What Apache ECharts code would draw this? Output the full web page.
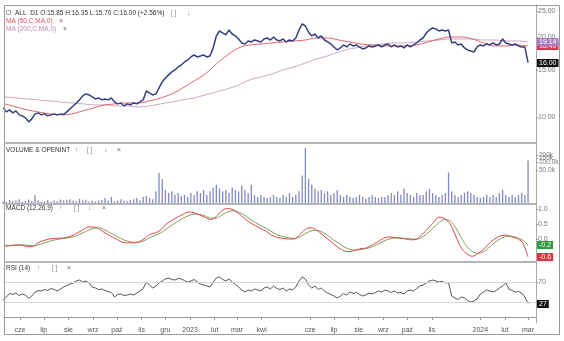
<!DOCTYPE html>
<html><head><meta charset="utf-8">
<script src="https://cdn.jsdelivr.net/npm/echarts@6/dist/echarts.min.js"></script>
<style>html,body{margin:0;padding:0;background:#fff}#c{width:564px;height:341px}</style>
</head><body><div id="c"></div><script>
// ---------- data ----------
const priceStart = '2022-05-11', priceStepDays = 4;
const closes = [10.82,10.45,10.63,10.36,10.54,10.18,10.09,9.92,9.58,9.83,
10.27,10.36,10.18,10.27,10.09,10.18,10.27,10.18,10.27,10.22,
10.45,10.72,11.00,11.29,11.59,12.00,12.21,12.10,11.89,11.69,
11.79,11.59,11.69,11.59,11.79,11.39,11.20,11.29,11.00,11.20,
11.10,11.29,11.20,11.39,11.59,12.53,12.31,12.10,12.21,12.86,
13.54,14.02,14.39,14.77,15.02,15.42,15.69,16.10,16.38,16.81,
17.10,16.81,16.96,17.10,16.81,16.96,18.17,20.16,21.05,20.69,
20.34,21.24,20.51,20.16,19.64,18.98,18.81,19.31,19.14,19.47,
19.31,19.14,19.64,19.81,19.47,19.99,19.47,19.31,19.64,19.14,
19.47,19.31,19.81,21.24,22.37,21.98,20.87,20.16,20.51,19.81,
20.16,19.47,19.14,18.81,18.33,17.86,18.17,18.65,18.33,18.81,
18.49,18.65,18.33,18.02,18.17,18.49,18.33,18.49,18.65,18.33,
18.65,18.81,18.33,18.65,18.33,18.49,18.17,18.65,18.33,18.65,
18.98,19.47,19.81,20.69,21.24,21.60,21.42,21.05,21.24,21.05,
21.24,18.98,19.14,18.65,18.81,18.17,17.86,17.70,17.55,18.33,
18.65,18.49,18.81,18.65,18.98,18.65,18.81,19.64,18.98,18.81,
18.65,18.81,18.49,18.33,18.33,16.00];
const volumesK = [2.8,2.7,3.2,2.8,3,3.4,2.7,2.9,3.3,2.9,
5,3,2.7,2.8,3.2,2.7,3,2.8,3.3,3,
3.2,3.4,3,2.8,3.5,3,3.2,2.7,3,2.8,
3,3.2,3.8,3,4.2,2.8,3,3.4,3,2.8,
3.2,3.4,3.8,3,4.2,4.6,3.8,3.4,7,38,
22,8,6,7,5,6,4.6,5,4.2,6,
5,7,6,8,5,7,10,13,9,7,
8,6,10,8,7,12,8,6,13,5,
4.2,5,4.2,3.8,4.2,5,4.2,3.8,5,4.2,
6,4.2,5,7,30,380,22,13,9,7,
8,6,7,5,6,8,5,4.2,5,4.2,
3.8,4.2,5,4.2,3.5,4.2,5,4.2,3.8,4.2,
4.2,5,6,5,7,5,9,6,5,4.2,
6,5,5,7,9,6,5,4.2,5,6,
40,7,5,4.2,5,6,7,6,5,4.2,
3.8,4.2,5,4.2,5,4.2,6,8,5,4.2,
5,4.2,5,6,5,120];
const rsi14 = [34,40,47,45,48,43,46,44,37,42,
50,53,52,55,53,57,55,52,56,60,
63,66,68,72,74,70,72,68,60,58,
55,56,53,51,49,40,45,46,43,44,
46,44,48,52,57,70,64,58,62,68,
72,76,78,75,74,77,76,73,70,72,
75,70,66,64,62,60,70,78,80,75,
72,76,70,65,60,54,50,54,52,56,
54,52,58,60,56,62,57,55,58,52,
56,54,60,72,80,76,64,58,62,55,
58,52,48,45,42,38,42,47,44,50,
47,49,45,42,44,48,46,49,52,50,
54,52,49,52,48,49,46,52,54,52,
57,62,64,68,72,74,72,70,71,68,
69,42,38,35,40,38,33,30,32,36,
46,50,54,52,50,53,58,62,68,56,
53,50,51,48,40,27];
const macdStart = '2022-05-13', macdStepDays = 7;
const macdLine = [-0.25,-0.22,-0.2,-0.2,-0.25,-0.25,-0.12,-0.05,0.0,0.02,
0.03,0.05,0.1,0.2,0.3,0.4,0.4,0.33,0.2,0.1,
0.0,-0.1,-0.13,-0.13,-0.1,0.0,0.15,0.2,0.3,0.5,
0.62,0.73,0.82,0.9,0.88,0.8,0.72,0.65,0.75,0.95,
1.02,0.98,0.85,0.7,0.55,0.45,0.35,0.25,0.12,0.05,
0.02,0.0,0.0,0.15,0.32,0.38,0.3,0.15,0.0,-0.15,
-0.3,-0.4,-0.42,-0.38,-0.32,-0.3,-0.2,-0.1,0.02,0.07,
0.05,0.03,0.0,-0.03,0.0,0.15,0.35,0.55,0.73,0.68,
0.5,0.1,-0.3,-0.5,-0.58,-0.48,-0.35,-0.15,0.0,0.1,
0.13,0.08,0.02,-0.12,-0.6];
const macdSignal = [-0.2,-0.22,-0.21,-0.2,-0.21,-0.23,-0.2,-0.14,-0.08,-0.03,
0.0,0.03,0.06,0.12,0.2,0.29,0.36,0.37,0.3,0.2,
0.1,0.0,-0.07,-0.11,-0.11,-0.06,0.04,0.12,0.2,0.33,
0.46,0.58,0.69,0.78,0.83,0.82,0.77,0.7,0.7,0.8,
0.9,0.95,0.9,0.8,0.67,0.55,0.45,0.35,0.24,0.14,
0.08,0.04,0.02,0.07,0.18,0.27,0.29,0.23,0.12,-0.02,
-0.15,-0.27,-0.35,-0.37,-0.35,-0.32,-0.26,-0.18,-0.08,0.0,
0.03,0.03,0.02,0.0,-0.01,0.06,0.2,0.37,0.55,0.65,
0.6,0.38,0.05,-0.25,-0.42,-0.48,-0.43,-0.28,-0.12,0.0,
0.08,0.09,0.05,-0.04,-0.2];
const maStart = '2022-05-13', maStepDays = 14;
const ma50 = [11.20,10.91,10.63,10.45,10.27,10.18,10.27,10.54,10.82,11.10,
11.20,11.29,11.29,11.49,11.79,12.21,12.86,13.66,14.51,15.82,
17.10,18.17,18.65,18.81,18.98,19.14,19.31,19.47,19.81,19.81,
19.47,19.14,18.81,18.65,18.49,18.49,18.49,18.65,19.14,19.64,
19.99,19.99,19.64,18.98,18.49,18.49,18.65,18.49];
const ma200 = [11.89,11.79,11.69,11.59,11.49,11.39,11.29,11.20,11.10,11.10,
11.00,11.00,10.91,11.00,11.20,11.39,11.59,11.79,12.10,12.42,
12.75,13.19,13.78,14.14,14.51,15.02,15.42,15.96,16.52,16.96,
17.55,18.02,18.33,18.65,18.81,18.98,18.98,19.14,19.31,19.47,
19.64,19.64,19.64,19.47,19.47,19.31,19.31,19.14];
const monthTicks = ['2022-06-01','2022-07-01','2022-08-01','2022-09-01','2022-10-01','2022-11-01','2022-12-01','2023-01-01','2023-02-01','2023-03-01','2023-04-01','2023-06-01','2023-07-01','2023-08-01','2023-09-01','2023-10-01','2023-11-01','2024-01-01','2024-02-01','2024-03-01'];
const monthLabels = ['cze','lip','sie','wrz','paź','lis','gru','2023','lut','mar','kwi','cze','lip','sie','wrz','paź','lis','2024','lut','mar'];
const priceTicks = [10,15,20,25];
const volumeTicksK = [50,100,150,200];
const volumeTickLabels = ['50.0k','100.0k','150k','200k'];
const macdTicks = [0,0.5,1.0];
const rsiTicks = [70];
const rsiLevels = [70,30];
const headerText = 'ALL  D1 O:15.85 H:16.35 L:15.70 C:16.00 (+2.56%)';

// ---------- build ----------
const DAY = 86400000;
const ts = s => Date.parse(s + 'T00:00:00Z');
const seriesDates = (start, step, n) => Array.from({length:n}, (_, i) => ts(start) + i*step*DAY);
const pDates = seriesDates(priceStart, priceStepDays, closes.length);
const mDates = seriesDates(macdStart, macdStepDays, macdLine.length);
const aDates = seriesDates(maStart, maStepDays, ma50.length);
const monthTs = monthTicks.map(ts);
const labelOf = {}; monthTs.forEach((t,i)=>labelOf[t]=monthLabels[i]);
const FONT = 'Liberation Sans, Arial, sans-serif';
const xMin = ts('2022-05-12'), xMax = ts('2024-03-11');
const lg = Math.log10;
const volTickVals = volumeTicksK.map(v=>lg(v*1000));

function xAxisFor(gi, show) {
  return {type:'value', gridIndex:gi, min:xMin, max:xMax,
    axisLine:{show:show, lineStyle:{color:'#999'}},
    axisTick:{show:show, customValues:monthTs, length:3, lineStyle:{color:'#999'}},
    axisLabel:{show:show, customValues:monthTs, formatter:v=>labelOf[v]||'', fontSize:7, color:'#555', fontFamily:FONT, margin:4},
    splitLine:{show:false}};
}
function yAxisFor(gi, min, max, ticks, fmt, showLabels) {
  return {type:'value', gridIndex:gi, position:'right', min:min, max:max,
    axisLine:{show:true, lineStyle:{color:'#aaa'}},
    axisTick:{show:true, customValues:ticks, length:2, lineStyle:{color:'#999'}},
    axisLabel:{show:showLabels!==false, customValues:ticks, formatter:fmt, fontSize:7, color:'#777', fontFamily:FONT, margin:2, hideOverlap:false},
    splitLine:{show:false}};
}

const txt = (x, y, text, color, size) => ({type:'text', x:x, y:y, style:{text:text, fill:color, font:(size||7)+'px '+FONT, verticalAlign:'middle'}});
const graphic = [
  {type:'rect', shape:{x:4.5,y:5.5,width:555,height:329}, style:{fill:'none', stroke:'#999', lineWidth:1}, z:100},
  {type:'line', shape:{x1:4,y1:143,x2:536,y2:143}, style:{stroke:'#b5b5b5', lineWidth:2}, z:100},
  {type:'line', shape:{x1:4,y1:204,x2:536,y2:204}, style:{stroke:'#b5b5b5', lineWidth:2}, z:100},
  {type:'line', shape:{x1:4,y1:262,x2:536,y2:262}, style:{stroke:'#b5b5b5', lineWidth:2}, z:100},
  {type:'rect', shape:{x:6.5,y:10.5,width:4,height:4}, style:{fill:'none', stroke:'#aaa', lineWidth:1}},
  txt(15, 13, headerText, '#333', 6.5),
  txt(171, 13, '[ ]', '#888', 6.5),
  txt(187, 13, '↓', '#888', 7),
  txt(6, 21, 'MA (50,C,MA,0)', '#e0505c', 6.5),
  txt(59, 21, '×', '#666', 7),
  txt(6, 29, 'MA (200,C,MA,0)', '#b98ab5', 6.5),
  txt(63, 29, '×', '#666', 7),
  txt(6, 150, 'VOLUME & OPENINT', '#333', 6.5),
  txt(75, 150, '↑', '#888', 7), txt(87, 150, '[ ]', '#888', 6.5), txt(104, 150, '↓', '#888', 7), txt(117, 150, '×', '#666', 7),
  txt(6, 208, 'MACD (12,26,9)', '#333', 6.5),
  txt(59, 208, '↑', '#888', 7), txt(74, 208, '[ ]', '#888', 6.5), txt(88, 208, '↓', '#888', 7), txt(102, 208, '×', '#666', 7),
  txt(6, 268, 'RSI (14)', '#333', 6.5),
  txt(37, 268, '↑', '#888', 7), txt(52, 268, '[ ]', '#888', 6.5), txt(67, 268, '×', '#666', 7)
];

const last = a => a[a.length-1];
const option = {
  animation:false, backgroundColor:'#fff',
  grid:[
    {left:4, right:28, top:5, height:138},
    {left:4, right:28, top:143, height:61},
    {left:4, right:28, top:204, height:58},
    {left:4, right:28, top:262, height:61}
  ],
  xAxis:[xAxisFor(0,false), xAxisFor(1,false), xAxisFor(2,false), xAxisFor(3,true)],
  yAxis:[
    yAxisFor(0, 0.902, 1.421, priceTicks.map(lg), v=>Math.pow(10,v).toFixed(2)),
    yAxisFor(1, 3.34, 5.78, volTickVals, null, false),
    yAxisFor(2, -0.77, 1.17, macdTicks, v=>v.toFixed(1)),
    yAxisFor(3, -12, 110, rsiTicks, v=>String(v))
  ],
  graphic:graphic,
  series:[
    {type:'line', name:'MA200', xAxisIndex:0, yAxisIndex:0, data:aDates.map((d,i)=>[d, lg(ma200[i])]), smooth:0.4, showSymbol:false,
      lineStyle:{color:'#c9a6c6', width:1}, z:2},
    {type:'line', name:'MA50', xAxisIndex:0, yAxisIndex:0, data:aDates.map((d,i)=>[d, lg(ma50[i])]), smooth:0.4, showSymbol:false,
      lineStyle:{color:'#e06468', width:1}, z:3},
    {type:'line', name:'ALL', xAxisIndex:0, yAxisIndex:0, data:pDates.map((d,i)=>[d, lg(closes[i])]), showSymbol:false,
      lineStyle:{color:'#34407f', width:1.5}, z:4},
    {type:'bar', name:'Volume', xAxisIndex:1, yAxisIndex:1, data:pDates.map((d,i)=>[d, lg(volumesK[i]*1000)]), barWidth:1.3, clip:true,
      itemStyle:{color:'#8188c8'}},
    {type:'line', name:'Signal', xAxisIndex:2, yAxisIndex:2, data:mDates.map((d,i)=>[d, macdSignal[i]]), smooth:0.3, showSymbol:false,
      lineStyle:{color:'#7aa35a', width:1}},
    {type:'line', name:'MACD', xAxisIndex:2, yAxisIndex:2, data:mDates.map((d,i)=>[d, macdLine[i]]), smooth:0.3, showSymbol:false,
      lineStyle:{color:'#e04848', width:1}},
    {type:'line', name:'RSI', xAxisIndex:3, yAxisIndex:3, data:pDates.map((d,i)=>[d, rsi14[i]]), showSymbol:false,
      lineStyle:{color:'#555', width:1},
      markLine:{symbol:['none','none'], silent:true, label:{show:false},
        data:rsiLevels.map(v=>({yAxis:v})), lineStyle:{color:'#d6d6d6', type:'solid', width:1}}}
  ]
};
const chart = echarts.init(document.getElementById('c'), null, {renderer:'canvas'});
chart.setOption(option);

// right-side texts placed through the axes' own scales
const yPix = (axis, v) => chart.convertToPixel({yAxisIndex:axis}, v);
const box = (axis, v, text, bg) => ({type:'text', x:537, y:Math.round(yPix(axis, v)), z:120,
  style:{text:text, fill:'#fff', backgroundColor:bg, padding:[1,2,0,2], font:'7px '+FONT, verticalAlign:'middle'}});
const volLabels = volTickVals.map((v,i)=>({type:'text', x:539, y:yPix(1, v), z:110,
  style:{text:volumeTickLabels[i], fill:'#777', font:'6.5px '+FONT, verticalAlign:'middle'}}));
const boxes = [
  box(0, lg(last(ma50)), last(ma50).toFixed(2), '#e0344c'),
  box(0, lg(last(ma200)), last(ma200).toFixed(2), '#a97cc2'),
  box(0, lg(last(closes)), last(closes).toFixed(2), '#111'),
  box(2, last(macdSignal), last(macdSignal).toFixed(1), '#2e9b42'),
  box(2, last(macdLine), last(macdLine).toFixed(1), '#e53040'),
  box(3, last(rsi14), String(last(rsi14)), '#111')
];
chart.setOption({graphic: graphic.concat(volLabels, boxes)});
</script></body></html>
